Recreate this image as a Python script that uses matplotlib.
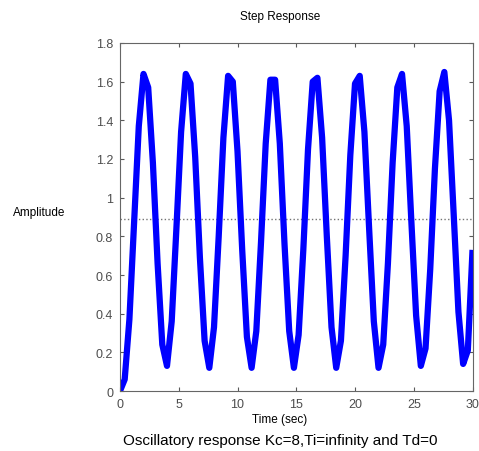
import matplotlib
matplotlib.use("Agg")
import matplotlib.pyplot as plt

# step response samples, one every 0.4 s
time_step = 0.4
amplitude = [0.00, 0.06, 0.37, 0.87, 1.37, 1.64, 1.57, 1.18, 0.66, 0.24,
             0.13, 0.36, 0.84, 1.34, 1.64, 1.59, 1.21, 0.69, 0.26, 0.12,
             0.33, 0.80, 1.31, 1.63, 1.60, 1.24, 0.73, 0.28, 0.12, 0.31,
             0.77, 1.28, 1.61, 1.61, 1.28, 0.76, 0.31, 0.12, 0.29, 0.73,
             1.25, 1.60, 1.62, 1.31, 0.80, 0.33, 0.12, 0.26, 0.70, 1.22,
             1.59, 1.63, 1.34, 0.84, 0.36, 0.12, 0.24, 0.66, 1.18, 1.57,
             1.64, 1.37, 0.87, 0.39, 0.13, 0.22, 0.63, 1.15, 1.55, 1.65,
             1.40, 0.91, 0.41, 0.14, 0.21, 0.73]
time = [round(i * time_step, 2) for i in range(len(amplitude))]
steady_state = 0.889

yticks = [0, 0.2, 0.4, 0.6, 0.8, 1, 1.2, 1.4, 1.6, 1.8]
ytick_labels = ['0', '0.2', '0.4', '0.6', '0.8', '1', '1.2', '1.4', '1.6', '1.8']
xticks = [0, 5, 10, 15, 20, 25, 30]

plt.rcParams['font.family'] = ['Liberation Sans', 'DejaVu Sans']

fig = plt.figure(figsize=(4.79, 4.52), dpi=100)
ax = fig.add_axes([0.2505, 0.1327, 0.736, 0.770])

ax.axhline(steady_state, color='0.45', linestyle=':', linewidth=1.0, zorder=1)
ax.plot(time, amplitude, color='#0000ff', linewidth=4.5, zorder=2,
        solid_joinstyle='round', solid_capstyle='butt')

ax.set_xlim(0, 30)
ax.set_ylim(0, 1.8)
ax.set_xticks(xticks)
ax.set_yticks(yticks)
ax.set_yticklabels(ytick_labels)
ax.tick_params(direction='in', length=3, width=0.8, top=True, right=True,
               labelsize=9, colors='0.35', labelcolor='0.3', pad=5)
for s in ax.spines.values():
    s.set_color('0.4')
    s.set_linewidth(0.8)

fig.text(280 / 479, 1 - 17 / 452, 'Step Response', ha='center', va='center', fontsize=8.5)
fig.text(280 / 479, 1 - 420 / 452, 'Time (sec)', ha='center', va='center', fontsize=8.5)
fig.text(39 / 479, 1 - 213 / 452, 'Amplitude', ha='center', va='center', fontsize=8.5)
fig.text(280 / 479, 1 - 441 / 452, 'Oscillatory response Kc=8,Ti=infinity and Td=0',
         ha='center', va='center', fontsize=11)

fig.savefig('out.png', dpi=100)
